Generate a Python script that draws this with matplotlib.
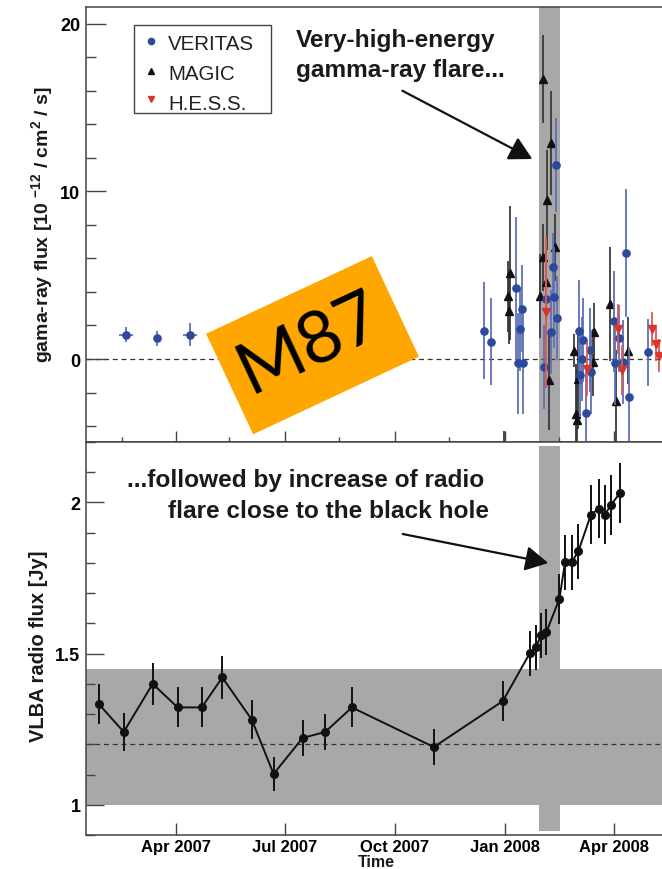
import numpy as np
import matplotlib
matplotlib.use("Agg")
import matplotlib.pyplot as plt
import matplotlib.dates as mdates
from matplotlib.patches import Rectangle, FancyArrowPatch
from matplotlib.lines import Line2D
from matplotlib.ticker import MultipleLocator
from matplotlib.transforms import IdentityTransform

plt.rcParams['font.family'] = ['Liberation Sans', 'DejaVu Sans']
plt.rcParams['mathtext.fontset'] = 'custom'
plt.rcParams['mathtext.rm'] = 'Liberation Sans:bold'
plt.rcParams['mathtext.bf'] = 'Liberation Sans:bold'
plt.rcParams['mathtext.default'] = 'rm'

# days counted from 2007-01-01
t0 = mdates.date2num(np.datetime64('2007-01-01'))

# VHE gamma-ray light curve [1e-12 / cm^2 / s]
veritas_day = [48.2, 73.9, 101.7, 347.6, 353.0, 374.1, 379.1, 377.5, 375.8, 380.2,
               408.1, 405.0, 406.5, 399.2, 409.0, 403.4, 398.1,
               427.0, 430.1, 429.3, 428.2, 433.2, 435.9, 437.4,
               456.0, 460.4, 466.0, 457.1, 463.5, 468.5, 485.0]
veritas_flux = [1.45, 1.23, 1.45, 1.69, 1.03, 4.22, 2.99, 1.79, -0.26, -0.26,
                11.58, 5.51, 3.68, 3.58, 2.43, 1.63, -0.5,
                1.69, 1.15, -0.02, -0.96, -3.22, 0.56, -0.76,
                2.25, 1.24, 6.33, -0.24, -0.2, -2.29, 0.4]
veritas_err = [0.45, 0.43, 0.7, 2.9, 2.6, 4.25, 2.6, 2.5, 3.0, 3.0,
               2.8, 2.0, 3.0, 2.5, 2.5, 2.5, 2.5,
               3.0, 2.5, 2.5, 2.5, 2.5, 2.5, 2.5,
               3.0, 2.0, 3.8, 2.5, 2.5, 3.0, 2.0]
veritas_xerr = [6, 0, 6] + [0] * 28

magic_day = [369.1, 368.0, 368.5, 364.3, 396.9, 403.4, 400.6, 407.0, 397.3, 394.8,
             399.8, 401.7, 423.2, 424.5, 425.3, 425.9, 439.5, 439.0, 452.7, 468.0, 457.7]
magic_flux = [5.13, 3.74, 2.89, -7.0, 16.7, 12.9, 9.49, 6.67, 6.07, 3.78,
              4.58, -1.25, 0.5, -3.28, -3.62, -1.19, 1.63, -0.2, 3.28, 0.5, -2.49]
magic_err = [4.0, 2.1, 2.0, 2.7, 2.6, 3.1, 3.0, 2.0, 2.0, 2.5,
             2.0, 3.0, 1.0, 3.0, 3.0, 3.0, 1.7, 2.0, 3.4, 2.0, 3.0]

hess_day = [399.4, 434.0, 459.6, 462.7, 488.0, 491.1, 493.6]
hess_flux = [2.79, -0.6, 1.79, -0.64, 1.79, 0.9, 0.2]
hess_err = [4.5, 1.6, 1.5, 1.5, 1.0, 1.0, 1.0]
hess_xerr = [0, 0, 0, 0, 2, 2, 2]

# VLBA 43 GHz core flux [Jy]
vlba_day = [25.7, 46.3, 70.5, 91.4, 111.5, 128.7, 153.3, 171.6, 195.9, 214.8,
            237.1, 305.6, 363.3, 385.8, 390.8, 395.3, 399.8, 410.6, 415.3, 420.9,
            426.5, 437.0, 443.7, 448.7, 453.7, 461.3]
vlba_flux = [1.332, 1.241, 1.40, 1.322, 1.322, 1.421, 1.282, 1.102, 1.221, 1.241,
             1.322, 1.191, 1.343, 1.501, 1.521, 1.561, 1.572, 1.681, 1.802, 1.802,
             1.839, 1.96, 1.98, 1.96, 1.992, 2.031]
vlba_err = [0.066, 0.062, 0.07, 0.066, 0.066, 0.071, 0.064, 0.055, 0.06, 0.06,
            0.066, 0.06, 0.067, 0.075, 0.075, 0.075, 0.075, 0.084, 0.09, 0.09,
            0.091, 0.098, 0.098, 0.098, 0.10, 0.10]

flare = (393.6, 411.5)
vlba_mean = 1.2
vlba_band = (1.0, 1.45)
xlim = (14.75, 496.4)

W, H = 662, 870
def fx(px):
    return px / W
def fy(py):
    return 1 - py / H

fig = plt.figure(figsize=(W / 100, H / 100), dpi=100)
ax1 = fig.add_axes([fx(86), fy(443), 1 - fx(86), fy(8) - fy(443)])
ax2 = fig.add_axes([fx(86), fy(836), 1 - fx(86), fy(443) - fy(836)])

spine_c = '#444444'
gray = '#a8a8a8'

for ax in (ax1, ax2):
    ax.set_xlim(t0 + xlim[0], t0 + xlim[1])
    ax.spines['right'].set_visible(False)
    for s in ('left', 'top', 'bottom'):
        ax.spines[s].set_color(spine_c)
        ax.spines[s].set_linewidth(1.1)
    ax.xaxis.set_major_locator(mdates.MonthLocator(bymonth=[1, 4, 7, 10]))
    ax.xaxis.set_major_formatter(mdates.DateFormatter('%b %Y'))
    ax.tick_params(axis='both', which='both', direction='in', color=spine_c, width=1,
                   right=False, top=False)

# ---- gamma-ray panel
ax1.set_ylim(-4.95, 21.0)
ax1.axvspan(t0 + flare[0], t0 + flare[1], color=gray, lw=0, zorder=0)
ax1.axhline(0, color='#333333', lw=0.9, ls=(0, (4, 3)), zorder=1)

x_v = t0 + np.array(veritas_day)
x_m = t0 + np.array(magic_day)
x_h = t0 + np.array(hess_day)
ax1.errorbar(x_m, magic_flux, yerr=magic_err, fmt='^', ms=5.5, color='#111111',
             ecolor='#3a3a3a', elinewidth=1.3, capsize=0, zorder=3)
ax1.errorbar(x_v, veritas_flux, yerr=veritas_err, xerr=veritas_xerr, fmt='o', ms=5.2,
             color='#2c4a9c', ecolor='#5e70b8', elinewidth=1.3, capsize=0, zorder=4)
ax1.errorbar(x_h, hess_flux, yerr=hess_err, xerr=hess_xerr, fmt='v', ms=5.5,
             color='#d9352a', ecolor='#e2584c', elinewidth=1.3, capsize=0, zorder=5)

ax1.yaxis.set_major_locator(MultipleLocator(10))
ax1.yaxis.set_minor_locator(MultipleLocator(2))
ax1.xaxis.set_minor_locator(mdates.MonthLocator(bymonth=[2, 5, 8, 11], bymonthday=15))
ax1.tick_params(axis='y', which='major', length=14.4, labelsize=13, pad=4)
ax1.tick_params(axis='y', which='minor', length=7.2)
ax1.tick_params(axis='x', which='major', length=8, labelbottom=False)
ax1.tick_params(axis='x', which='minor', length=3.6)
for lab in ax1.get_yticklabels():
    lab.set_fontweight('bold')

# ---- radio panel
ax2.set_ylim(0.9, 2.2)
ax2.axhspan(vlba_band[0], vlba_band[1], color=gray, lw=0, zorder=0)
ax2.axvspan(t0 + flare[0], t0 + flare[1], ymin=0.01, ymax=0.99, color=gray, lw=0, zorder=0)
ax2.axhline(vlba_mean, color='#333333', lw=0.9, ls=(0, (4, 3)), zorder=1)
ax2.errorbar(t0 + np.array(vlba_day), vlba_flux, yerr=vlba_err, fmt='-o', ms=5.5,
             color='#111111', lw=1.4, elinewidth=1.4, capsize=0, zorder=3)

ax2.yaxis.set_major_locator(MultipleLocator(0.5))
ax2.yaxis.set_minor_locator(MultipleLocator(0.1))
ax2.yaxis.set_major_formatter(plt.FuncFormatter(lambda v, p: '%g' % v))
ax2.tick_params(axis='y', which='major', length=13, labelsize=13, pad=4)
ax2.tick_params(axis='y', which='minor', length=6.5)
ax2.tick_params(axis='x', which='major', length=8.6, labelsize=12, pad=3)
for lab in ax2.get_yticklabels() + ax2.get_xticklabels():
    lab.set_fontweight('bold')

# axis titles
fig.text(fx(42), fy(224.5), 'gama-ray flux [10 $^{-12}$ / cm$^{2}$ / s]', rotation=90,
         ha='center', va='center', fontsize=14, fontweight='bold', color='#1a1a1a')
fig.text(fx(38.5), fy(646.5), 'VLBA radio flux [Jy]', rotation=90,
         ha='center', va='center', fontsize=14.5, fontweight='bold', color='#1a1a1a')
fig.text(fx(376.5), fy(855), 'Time', ha='center', va='top', fontsize=11.5,
         fontweight='bold', color='#1a1a1a')

# legend box
fig.add_artist(Rectangle((fx(134), fy(114)), fx(270.7) - fx(134), fy(25.7) - fy(114),
                         transform=fig.transFigure, fill=False, ec=spine_c, lw=1))
leg = [('VERITAS', 'o', '#2c4a9c', 41.7, 50),
       ('MAGIC', '^', '#111111', 71.7, 80),
       ('H.E.S.S.', 'v', '#d9352a', 99.5, 110)]
for name, mk, c, my, by in leg:
    fig.add_artist(Line2D([fx(151)], [fy(my)], marker=mk, ms=4.5, color=c, ls='none',
                          transform=fig.transFigure))
    fig.text(fx(168), fy(by), name, ha='left', va='baseline', fontsize=14.8, color='#222222')

# annotations
ann_kw = dict(ha='left', va='baseline', fontsize=17.6, fontweight='bold', color='#1a1a1a')
fig.text(fx(296), fy(47.3), 'Very-high-energy', **ann_kw)
fig.text(fx(296), fy(76.7), 'gamma-ray flare...', **ann_kw)
fig.text(fx(127), fy(486.7), '...followed by increase of radio', **ann_kw)
fig.text(fx(168), fy(518.3), 'flare close to the black hole', **ann_kw)

for (x0, y0), (x1, y1) in [((402.3, 91.7), (532.3, 160)), ((402.7, 535), (548.3, 564))]:
    fig.add_artist(FancyArrowPatch((fx(x0), fy(y0)), (fx(x1), fy(y1)),
                                   transform=fig.transFigure,
                                   arrowstyle='-|>,head_length=0.7,head_width=0.38',
                                   mutation_scale=20, lw=1.6, color='#111111',
                                   shrinkA=0, shrinkB=0))

# M87 tag, rotated box placed in figure pixels
ang = 25.1
bw, bh = 183, 111
cx, cy = 312.5, 346.2
th = np.deg2rad(ang)
ux, uy = np.cos(th), np.sin(th)
vx, vy = -np.sin(th), np.cos(th)
llx = cx - ux * bw / 2 - vx * bh / 2
lly = (H - cy) - uy * bw / 2 - vy * bh / 2
box = Rectangle((llx, lly), bw, bh, angle=ang, fc='#ffa600', ec='none', zorder=10,
                transform=IdentityTransform())
fig.add_artist(box)
fig.text(fx(cx - 3), fy(cy - 2), 'M87', rotation=ang, rotation_mode='anchor', ha='center',
         va='center', fontsize=52, family='Lato', color='black', zorder=11)

fig.savefig('out.png', dpi=100)
